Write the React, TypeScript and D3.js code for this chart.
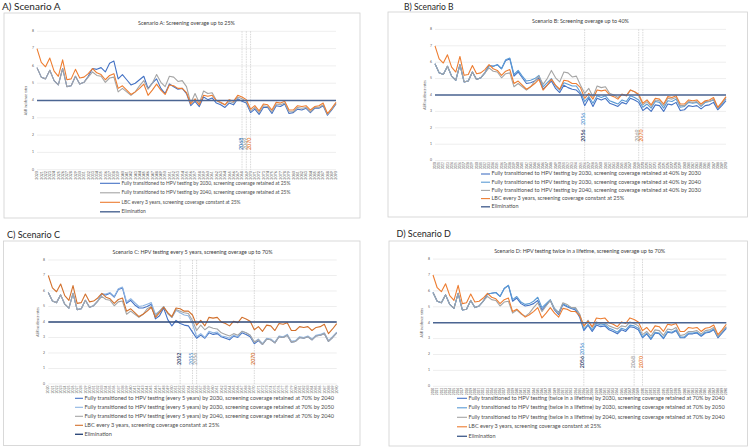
import * as d3 from 'd3';

// years on the category axis
const years = d3.range(2020, 2091);
const yTicks = [0, 1, 2, 3, 4, 5, 6, 7, 8];
const eliminationLevel = 4;

// LBC every 3 years, coverage constant at 25% (same in every scenario)
const lbc = [
  7.0, 6.2, 5.95, 6.45, 5.7, 5.4, 6.35, 5.2, 5.25, 5.8,
  5.3, 5.35, 5.55, 5.85, 5.6, 5.5, 5.2, 5.45, 5.55, 4.7,
  4.85, 4.6, 4.35, 4.5, 4.7, 4.95, 4.3, 4.6, 4.95, 4.6,
  4.35, 4.9, 4.85, 4.7, 4.7, 4.45, 3.8, 4.1, 3.75, 4.3,
  4.25, 4.3, 4.0, 3.9, 3.75, 4.05, 3.95, 4.3, 4.2, 4.05,
  3.5, 3.7, 3.4, 3.8, 3.75, 3.45, 3.9, 3.85, 3.95, 3.45,
  3.45, 3.7, 3.65, 3.7, 3.45, 3.65, 3.7, 3.85, 3.25, 3.55, 3.9,
];

// Scenario A
const aHpv2030 = [
  5.9, 5.35, 5.25, 5.75, 5.15, 4.9, 5.85, 4.8, 4.85, 5.4, 4.95, 5.05, 5.4,
  5.85, 5.8, 5.9, 5.65, 6.15, 6.28,
  5.25, 5.5, 5.2, 4.9, 5.0, 5.2, 5.4, 4.7, 5.0, 5.25, 4.7, 4.4, 4.95, 4.8, 4.65, 4.7, 4.4,
  3.7, 3.95, 3.65, 4.2, 4.05, 4.15, 3.85, 3.75, 3.6, 3.85, 3.75, 4.1, 3.95, 3.85,
  3.3, 3.5, 3.2, 3.6, 3.6, 3.25, 3.7, 3.65, 3.8, 3.25, 3.3, 3.5, 3.45, 3.55, 3.3, 3.55, 3.55, 3.7, 3.15, 3.45, 3.8,
];
const aHpv2040 = [
  5.9, 5.35, 5.25, 5.75, 5.15, 4.9, 5.85, 4.8, 4.85, 5.4, 4.95, 5.05, 5.35,
  5.65, 5.45, 5.4, 5.05, 5.3, 5.35,
  4.5, 4.7, 4.5, 4.3, 4.5, 4.85, 5.15, 4.65, 5.0, 5.5, 5.05, 4.8, 5.4, 5.35, 5.1, 5.15, 4.8,
  3.85, 4.4, 3.85, 4.55, 4.4, 4.45, 4.0, 3.85, 3.75, 3.95, 3.85, 4.2, 4.1, 3.95,
  3.4, 3.6, 3.3, 3.7, 3.65, 3.35, 3.8, 3.75, 3.85, 3.35, 3.35, 3.6, 3.55, 3.6, 3.35, 3.6, 3.6, 3.75, 3.2, 3.5, 3.85,
];

// Scenario B
const bHpv2030By2030 = [
  5.9, 5.35, 5.25, 5.75, 5.15, 4.9, 5.85, 4.8, 4.85, 5.4, 4.95, 5.05, 5.35,
  5.8, 5.75, 5.85, 5.6, 6.1, 6.2,
  5.15, 5.4, 5.05, 4.7, 4.75, 4.85, 5.05, 4.35, 4.6, 4.85, 4.4, 4.15, 4.6, 4.45, 4.35, 4.3, 4.05,
  3.35, 3.8, 3.3, 3.8, 3.7, 3.8, 3.5, 3.4, 3.3, 3.55, 3.45, 3.8, 3.7, 3.55,
  3.05, 3.25, 3.0, 3.4, 3.35, 3.0, 3.45, 3.4, 3.55, 3.05, 3.1, 3.35, 3.3, 3.35, 3.15, 3.35, 3.4, 3.55, 3.1, 3.35, 3.65,
];
const bHpv2030By2040 = [
  5.9, 5.35, 5.25, 5.75, 5.15, 4.9, 5.85, 4.8, 4.85, 5.4, 4.95, 5.05, 5.35,
  5.8, 5.75, 5.85, 5.6, 6.15, 6.25,
  5.25, 5.5, 5.15, 4.85, 4.9, 5.0, 5.2, 4.5, 4.75, 5.0, 4.55, 4.3, 4.75, 4.65, 4.55, 4.55, 4.15,
  3.6, 3.9, 3.5, 3.95, 3.85, 3.95, 3.65, 3.55, 3.45, 3.7, 3.6, 3.95, 3.85, 3.7,
  3.25, 3.45, 3.2, 3.6, 3.55, 3.2, 3.65, 3.6, 3.75, 3.25, 3.3, 3.55, 3.5, 3.55, 3.3, 3.55, 3.6, 3.7, 3.2, 3.45, 3.75,
];
const bHpv2040By2030 = [
  5.9, 5.35, 5.25, 5.75, 5.15, 4.9, 5.85, 4.8, 4.85, 5.4, 4.95, 5.05, 5.35,
  5.65, 5.45, 5.4, 5.05, 5.3, 5.35,
  4.5, 4.7, 4.5, 4.3, 4.5, 4.85, 5.15, 4.65, 5.0, 5.5, 5.05, 4.8, 5.4, 5.35, 5.1, 5.15, 4.6,
  4.1, 4.4, 3.9, 4.55, 4.45, 4.5, 4.1, 4.0, 3.85, 4.05, 3.95, 4.3, 4.2, 3.95,
  3.4, 3.6, 3.3, 3.7, 3.65, 3.35, 3.8, 3.75, 3.85, 3.35, 3.35, 3.6, 3.55, 3.6, 3.35, 3.6, 3.6, 3.75, 3.2, 3.5, 3.85,
];

// Scenario C
const cHpv2030By2040 = [
  5.9, 5.35, 5.25, 5.75, 5.15, 4.9, 5.85, 4.8, 4.85, 5.4, 4.95, 5.05, 5.35,
  5.8, 5.75, 5.85, 5.6, 6.1, 6.2,
  5.2, 5.4, 5.1, 4.9, 4.9, 5.0, 5.15, 4.2, 4.4, 4.9, 4.15, 3.75, 4.1, 3.9, 3.8, 3.75, 3.35,
  2.95, 3.15, 2.95, 3.3, 3.2, 3.25, 3.05, 2.95, 2.85, 3.1, 3.0, 3.3, 3.2, 3.05,
  2.6, 2.8, 2.55, 2.9, 2.85, 2.65, 3.05, 3.0, 3.15, 2.7, 2.75, 3.0, 2.95, 3.05, 2.85, 3.1, 3.15, 3.25, 2.75, 3.0, 3.3,
];
const cHpv2030By2050 = [
  5.9, 5.35, 5.25, 5.75, 5.15, 4.9, 5.85, 4.8, 4.85, 5.4, 4.95, 5.05, 5.35,
  5.8, 5.8, 5.9, 5.65, 6.15, 6.25,
  5.3, 5.5, 5.25, 5.0, 5.05, 5.15, 5.25, 4.5, 4.7, 5.0, 4.55, 4.3, 4.75, 4.6, 4.45, 4.4, 3.9,
  3.05, 3.25, 3.0, 3.4, 3.3, 3.35, 3.1, 3.05, 2.95, 3.15, 3.05, 3.4, 3.3, 3.15,
  2.7, 2.9, 2.6, 2.95, 2.9, 2.7, 3.1, 3.05, 3.2, 2.75, 2.8, 3.05, 3.0, 3.1, 2.9, 3.15, 3.2, 3.3, 2.8, 3.05, 3.35,
];
const cHpv2040By2040 = [
  5.9, 5.35, 5.25, 5.75, 5.15, 4.9, 5.85, 4.8, 4.85, 5.4, 4.95, 5.05, 5.35,
  5.65, 5.45, 5.4, 5.05, 5.3, 5.35,
  4.5, 4.7, 4.5, 4.3, 4.5, 4.85, 5.0, 4.4, 4.7, 5.0, 4.55, 4.3, 4.8, 4.7, 4.6, 4.55, 4.1,
  3.45, 3.8, 3.5, 3.7, 3.6, 3.55, 3.3, 3.2, 3.1, 3.25, 3.15, 3.4, 3.3, 3.15,
  2.7, 2.85, 2.55, 2.9, 2.85, 2.65, 3.05, 3.0, 3.15, 2.7, 2.75, 3.0, 2.95, 3.05, 2.85, 3.1, 3.15, 3.25, 2.75, 3.0, 3.3,
];

// Scenario D
const dHpv2030By2040 = [
  5.9, 5.35, 5.25, 5.75, 5.15, 4.9, 5.85, 4.8, 4.85, 5.4, 4.95, 5.05, 5.35,
  5.8, 5.85, 5.9, 5.65, 6.15, 6.35,
  5.35, 5.55, 5.2, 5.05, 5.1, 5.2, 5.4, 4.8, 5.1, 5.4, 4.8, 4.5, 5.15, 5.0, 4.9, 4.8, 4.35,
  3.5, 3.85, 3.45, 3.85, 3.75, 3.8, 3.55, 3.45, 3.3, 3.55, 3.45, 3.75, 3.7, 3.55,
  3.05, 3.3, 2.95, 3.35, 3.3, 3.0, 3.4, 3.35, 3.5, 3.05, 3.05, 3.3, 3.3, 3.35, 3.15, 3.35, 3.4, 3.55, 3.05, 3.35, 3.65,
];
const dHpv2030By2050 = [
  5.9, 5.35, 5.25, 5.75, 5.15, 4.9, 5.85, 4.8, 4.85, 5.4, 4.95, 5.05, 5.35,
  5.8, 5.85, 5.9, 5.65, 6.15, 6.35,
  5.45, 5.65, 5.3, 5.15, 5.2, 5.35, 5.6, 4.95, 5.2, 5.45, 4.9, 4.65, 5.2, 5.05, 4.95, 4.9, 4.5,
  3.6, 3.9, 3.55, 3.95, 3.85, 3.9, 3.65, 3.55, 3.4, 3.65, 3.55, 3.85, 3.8, 3.65,
  3.1, 3.35, 3.0, 3.4, 3.35, 3.05, 3.45, 3.4, 3.55, 3.1, 3.1, 3.35, 3.35, 3.4, 3.2, 3.4, 3.45, 3.6, 3.1, 3.4, 3.7,
];
const dHpv2040By2040 = [
  5.9, 5.35, 5.25, 5.75, 5.15, 4.9, 5.85, 4.8, 4.85, 5.4, 4.95, 5.05, 5.35,
  5.65, 5.45, 5.4, 5.05, 5.3, 5.35,
  4.6, 4.8, 4.55, 4.4, 4.6, 4.95, 5.25, 4.7, 5.05, 5.4, 4.85, 4.6, 5.25, 5.15, 4.95, 4.95, 4.55,
  3.75, 4.15, 3.7, 4.05, 3.95, 4.0, 3.8, 3.7, 3.6, 3.8, 3.75, 4.05, 3.95, 3.8,
  3.25, 3.45, 3.15, 3.55, 3.5, 3.2, 3.6, 3.55, 3.7, 3.2, 3.25, 3.45, 3.45, 3.5, 3.3, 3.5, 3.55, 3.7, 3.15, 3.45, 3.75,
];

const BLUE = '#4472C4';
const LIGHT = '#5B9BD5';
const GRAY = '#A5A5A5';
const ORANGE = '#ED7D31';
const ELIM = '#4B6592';
const NAVY = '#1F3864';

type Series = { name: string; color: string; values: number[] };
type Marker = { year: number; label: string; color: string; level: number };
type Layout = {
  box: [number, number, number, number];
  head: [number, number, number];
  titleY: number;
  x0: number; x1: number; yTop: number; yBottom: number;
  yTickX: number; yTitleX: number; xTickFont: number;
  legLine: [number, number]; legTop: number; legStep: number; legFont: number;
};
type PanelSpec = {
  heading: string; title: string; series: Series[]; elimColor: string;
  lines: number[]; markers: Marker[]; layout: Layout;
};

const lbcName = 'LBC every 3 years, screening coverage constant at 25%';

const panels: PanelSpec[] = [
  {
    heading: 'A) Scenario A',
    title: 'Scenario A: Screening overage up to 25%',
    series: [
      { name: 'Fully transitioned to HPV testing by 2030, screening coverage retained at 25%', color: BLUE, values: aHpv2030 },
      { name: 'Fully transitioned to HPV testing by 2040, screening coverage retained at 25%', color: GRAY, values: aHpv2040 },
      { name: lbcName, color: ORANGE, values: lbc },
    ],
    elimColor: ELIM,
    lines: [2068, 2069, 2070],
    markers: [
      { year: 2068, label: '2068', color: '#2E75B6', level: 1.14 },
      { year: 2069, label: '2069', color: GRAY, level: 1.14 },
      { year: 2070, label: '2070', color: ORANGE, level: 1.14 },
    ],
    layout: {
      box: [4, 13, 356, 205], head: [2, 10, 10], titleY: 25,
      x0: 37, x1: 336, yTop: 31.3, yBottom: 169.7, yTickX: 34, yTitleX: 27, xTickFont: 3.7,
      legLine: [100, 120], legTop: 183.3, legStep: 9.5, legFont: 4.95,
    },
  },
  {
    heading: 'B) Scenario B',
    title: 'Scenario B: Screening overage up to 40%',
    series: [
      { name: 'Fully transitioned to HPV testing by 2030, screening coverage retained at 40% by 2030', color: BLUE, values: bHpv2030By2030 },
      { name: 'Fully transitioned to HPV testing by 2030, screening coverage retained at 40% by 2040', color: LIGHT, values: bHpv2030By2040 },
      { name: 'Fully transitioned to HPV testing by 2040, screening coverage retained at 40% by 2030', color: GRAY, values: bHpv2040By2030 },
      { name: lbcName, color: ORANGE, values: lbc },
    ],
    elimColor: ELIM,
    lines: [2056, 2069, 2070],
    markers: [
      { year: 2056, label: '2056', color: LIGHT, level: 2.17 },
      { year: 2056, label: '2056', color: NAVY, level: 1.15 },
      { year: 2069, label: '2069', color: GRAY, level: 1.15 },
      { year: 2070, label: '2070', color: ORANGE, level: 1.15 },
    ],
    layout: {
      box: [388, 12, 359.5, 205], head: [404, 9.5, 8.5], titleY: 22.5,
      x0: 435, x1: 726, yTop: 29.4, yBottom: 160.6, yTickX: 432, yTitleX: 426, xTickFont: 3.1,
      legLine: [481, 490], legTop: 174, legStep: 8.2, legFont: 5.5,
    },
  },
  {
    heading: 'C) Scenario C',
    title: 'Scenario C: HPV testing every 5 years, screening overage up to 70%',
    series: [
      { name: 'Fully transitioned to HPV testing (every 5 years) by 2030, screening coverage retained at 70% by 2040', color: BLUE, values: cHpv2030By2040 },
      { name: 'Fully transitioned to HPV testing (every 5 years) by 2030, screening coverage retained at 70% by 2050', color: '#8DB4E2', values: cHpv2030By2050 },
      { name: 'Fully transitioned to HPV testing (every 5 years) by 2040, screening coverage retained at 70% by 2040', color: GRAY, values: cHpv2040By2040 },
      { name: lbcName, color: '#D2702C', values: lbc },
    ],
    elimColor: '#2F4A7A',
    lines: [2052, 2055, 2056, 2070],
    markers: [
      { year: 2052, label: '2052', color: NAVY, level: 1.23 },
      { year: 2055, label: '2055', color: LIGHT, level: 1.23 },
      { year: 2056, label: '2056', color: GRAY, level: 1.23 },
      { year: 2070, label: '2070', color: '#D2702C', level: 1.23 },
    ],
    layout: {
      box: [3.5, 241, 356.5, 204.5], head: [7, 238, 9], titleY: 254,
      x0: 48.3, x1: 336.7, yTop: 260, yBottom: 384, yTickX: 45, yTitleX: 38.5, xTickFont: 3.4,
      legLine: [75, 83], legTop: 398.3, legStep: 9, legFont: 5.6,
    },
  },
  {
    heading: 'D) Scenario D',
    title: 'Scenario D: HPV testing twice in a lifetime, screening overage up to 70%',
    series: [
      { name: 'Fully transitioned to HPV testing  (twice in a lifetime) by 2030, screening coverage retained at 70% by 2040', color: BLUE, values: dHpv2030By2040 },
      { name: 'Fully transitioned to HPV testing  (twice in a lifetime) by 2030, screening coverage retained at 70% by 2050', color: LIGHT, values: dHpv2030By2050 },
      { name: 'Fully transitioned to HPV testing (twice in a lifetime) by 2040, screening coverage retained at 70% by 2040', color: GRAY, values: dHpv2040By2040 },
      { name: lbcName, color: ORANGE, values: lbc },
    ],
    elimColor: ELIM,
    lines: [2056, 2068, 2070],
    markers: [
      { year: 2056, label: '2056', color: LIGHT, level: 1.97 },
      { year: 2056, label: '2056', color: NAVY, level: 1.13 },
      { year: 2068, label: '2068', color: GRAY, level: 1.13 },
      { year: 2070, label: '2070', color: ORANGE, level: 1.13 },
    ],
    layout: {
      box: [389, 241, 358.5, 205], head: [396.5, 236.7, 9], titleY: 252.5,
      x0: 433, x1: 726.3, yTop: 259.1, yBottom: 386.3, yTickX: 430, yTitleX: 423, xTickFont: 3.2,
      legLine: [457, 467], legTop: 398.3, legStep: 9.5, legFont: 5.5,
    },
  },
];

const FONT = 'Lato, "Open Sans", sans-serif';

function Panel({ p }: { p: PanelSpec }) {
  const L = p.layout;
  const x = d3.scaleLinear().domain([years[0], years[years.length - 1]]).range([L.x0, L.x1]);
  const y = d3.scaleLinear().domain([0, 8]).range([L.yBottom, L.yTop]);
  const line = d3
    .line<number>()
    .x((_, i) => x(years[i]))
    .y(d => y(d));
  const elimValues = years.map(() => eliminationLevel);
  const legend = [...p.series, { name: 'Elimination', color: p.elimColor, values: elimValues }];
  const [bx, by, bw, bh] = L.box;

  return (
    <g fontFamily={FONT}>
      <text x={L.head[0]} y={L.head[1]} fontSize={L.head[2]} fill="#262626">{p.heading}</text>
      <rect x={bx} y={by} width={bw} height={bh} fill="#fff" stroke="#D0D0D0" strokeWidth={0.8} />
      <text x={(L.x0 + L.x1) / 2} y={L.titleY} fontSize={5.4} fill="#404040" textAnchor="middle">{p.title}</text>

      {yTicks.map(t => (
        <g key={t}>
          <line x1={L.x0} x2={L.x1} y1={y(t)} y2={y(t)} stroke="#E3E3E3" strokeWidth={0.6} />
          <text x={L.yTickX} y={y(t)} fontSize={3.4} fill="#595959" textAnchor="end" dominantBaseline="middle">{t}</text>
        </g>
      ))}
      <text
        transform={`translate(${L.yTitleX},${(L.yTop + L.yBottom) / 2}) rotate(-90)`}
        fontSize={3.4}
        fill="#595959"
        textAnchor="middle"
      >
        ASR incidence rates
      </text>

      {years.map(yr => (
        <text
          key={yr}
          transform={`translate(${x(yr) + L.xTickFont * 0.35},${L.yBottom + 1.5}) rotate(-90)`}
          fontSize={L.xTickFont}
          fill="#595959"
          textAnchor="end"
        >
          {yr}
        </text>
      ))}

      {p.lines.map(yr => (
        <line
          key={yr}
          x1={x(yr)}
          x2={x(yr)}
          y1={y(8)}
          y2={y(0)}
          stroke="#BFBFBF"
          strokeWidth={0.6}
          strokeDasharray="1.5,1"
        />
      ))}

      {p.series.map(s => (
        <path key={s.name} d={line(s.values) ?? ''} fill="none" stroke={s.color} strokeWidth={1.1} strokeLinejoin="round" />
      ))}
      <path d={line(elimValues) ?? ''} fill="none" stroke={p.elimColor} strokeWidth={1.4} />

      {p.markers.map((m, i) => (
        <text
          key={i}
          transform={`translate(${x(m.year) + 0.6},${y(m.level)}) rotate(-90)`}
          fontSize={5.3}
          fontWeight={600}
          fill={m.color}
        >
          {m.label}
        </text>
      ))}

      {legend.map((s, i) => {
        const ly = L.legTop + i * L.legStep;
        return (
          <g key={i}>
            <line x1={L.legLine[0]} x2={L.legLine[1]} y1={ly} y2={ly} stroke={s.color} strokeWidth={s.name === 'Elimination' ? 1.4 : 1.1} />
            <text x={L.legLine[1] + 1.5} y={ly} fontSize={L.legFont} fill="#4D4D4D" dominantBaseline="middle">{s.name}</text>
          </g>
        );
      })}
    </g>
  );
}

export default function App() {
  return (
    <svg
      width={750}
      height={447}
      style={{ position: 'absolute', left: 0, top: 0, background: '#fff' }}
    >
      {panels.map(p => (
        <Panel key={p.heading} p={p} />
      ))}
    </svg>
  );
}
